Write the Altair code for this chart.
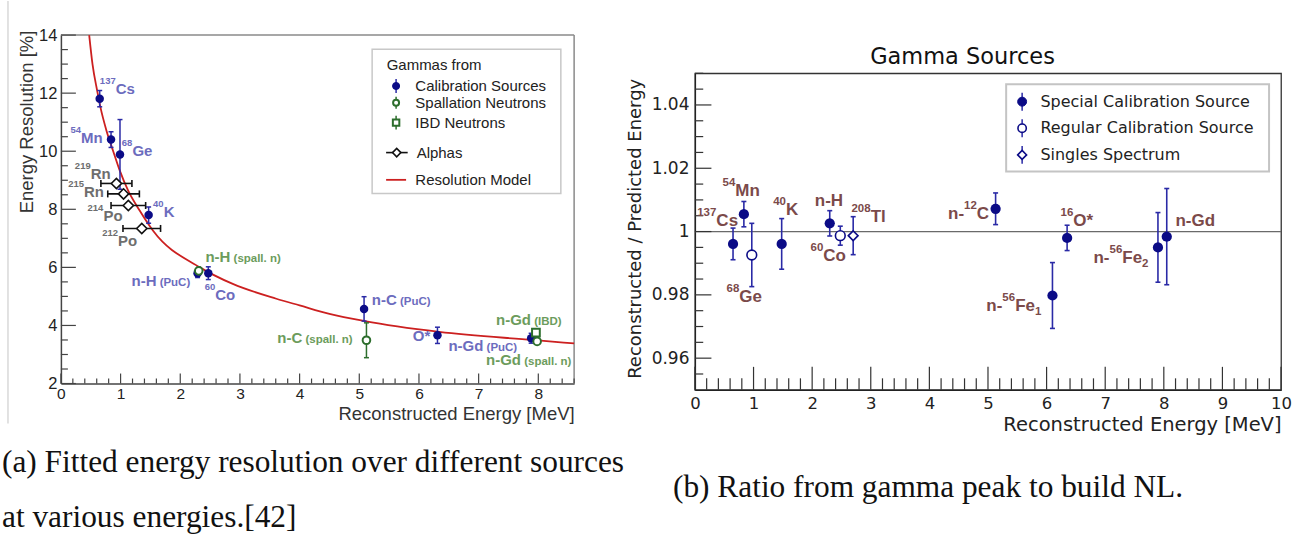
import altair as alt
import numpy as np
import pandas as pd

# ---------------- (a) energy resolution ----------------
cal_energy = [0.65, 0.84, 0.99, 1.47, 2.29, 2.47, 5.08, 6.31, 7.88]
cal_resolution = [11.81, 10.40, 9.89, 7.80, 5.80, 5.80, 4.57, 3.66, 3.56]
cal_error = [0.28, 0.27, 1.20, 0.28, 0.15, 0.22, 0.42, 0.28, 0.17]

spall_energy = [2.31, 5.12, 7.98]
spall_resolution = [5.88, 3.49, 3.45]
spall_error = [0.12, 0.60, 0.08]

ibd_energy = [7.96]
ibd_resolution = [3.75]
ibd_error = [0.12]

alpha_energy = [0.93, 1.05, 1.13, 1.355]
alpha_resolution = [8.89, 8.53, 8.13, 7.34]
alpha_energy_error = [0.26, 0.265, 0.29, 0.315]

model_energy = [0.474, 0.53, 0.608, 0.664, 0.765, 0.875, 0.987, 1.127, 1.322,
                1.545, 2.33, 2.88, 3.61, 4.0, 4.5, 5.09, 6.34, 7.9, 8.6]
model_resolution = [14.0, 12.99, 12.08, 11.50, 10.70, 10.01, 9.33, 8.64, 7.95,
                    7.26, 6.0, 5.43, 4.92, 4.69, 4.40, 4.15, 3.78, 3.50, 3.38]

# ---------------- (b) reconstructed / predicted ----------------
special_energy = [0.65, 0.835, 1.48, 2.30, 5.13, 6.10, 6.35, 7.90, 8.05]
special_ratio = [0.9961, 1.0055, 0.9961, 1.0026, 1.0072, 0.9798, 0.9980, 0.9950, 0.9984]
special_error = [0.0050, 0.0040, 0.0080, 0.0040, 0.0050, 0.0104, 0.0040, 0.0110, 0.0152]

regular_energy = [0.97, 2.48]
regular_ratio = [0.9926, 0.9987]
regular_error = [0.0100, 0.0030]

singles_energy = [2.70]
singles_ratio = [0.9987]
singles_error = [0.0060]

# ---------------- annotation text (anchored in data units) ----------------
BLUE_T, GREEN_T, GREY_T, BROWN_T = "#6c6cbe", "#6c9c5c", "#6e6e6e", "#7b4a4a"
left_labels = [
    ([("137", "sup"), ("Cs", "main")], 0.653, 11.96, BLUE_T),
    ([("54", "sup"), ("Mn", "main")], 0.162, 10.30, BLUE_T),
    ([("68", "sup"), ("Ge", "main")], 1.021, 9.83, BLUE_T),
    ([("219", "sup"), ("Rn", "main")], 0.234, 9.06, GREY_T),
    ([("215", "sup"), ("Rn", "main")], 0.122, 8.41, GREY_T),
    ([("214", "sup"), ("Po", "main")], 0.447, 7.61, GREY_T),
    ([("212", "sup"), ("Po", "main")], 0.691, 6.75, GREY_T),
    ([("40", "sup"), ("K", "main")], 1.545, 7.72, BLUE_T),
    ([("n-H", "main"), (" (spall. n)", "paren")], 2.422, 6.20, GREEN_T),
    ([("n-H", "main"), (" (PuC)", "paren")], 1.183, 5.37, BLUE_T),
    ([("60", "sup"), ("Co", "main")], 2.41, 4.88, BLUE_T),
    ([("n-C", "main"), (" (spall. n)", "paren")], 3.627, 3.39, GREEN_T),
    ([("n-C", "main"), (" (PuC)", "paren")], 5.21, 4.69, BLUE_T),
    ([("O*", "main")], 5.896, 3.48, BLUE_T),
    ([("n-Gd", "main"), (" (PuC)", "paren")], 6.494, 3.11, BLUE_T),
    ([("n-Gd", "main"), (" (IBD)", "paren")], 7.292, 4.03, GREEN_T),
    ([("n-Gd", "main"), (" (spall. n)", "paren")], 7.125, 2.63, GREEN_T),
]
right_labels = [
    ([("137", "sup"), ("Cs", "main")], 0.039, 1.0019),
    ([("54", "sup"), ("Mn", "main")], 0.472, 1.0111),
    ([("68", "sup"), ("Ge", "main")], 0.540, 0.9777),
    ([("40", "sup"), ("K", "main")], 1.335, 1.0051),
    ([("n-H", "main")], 2.045, 1.0082),
    ([("60", "sup"), ("Co", "main")], 1.972, 0.9906),
    ([("208", "sup"), ("Tl", "main")], 2.671, 1.0029),
    ([("n-", "main"), ("12", "sup"), ("C", "main")], 4.318, 1.0040),
    ([("16", "sup"), ("O*", "main")], 6.238, 1.0019),
    ([("n-", "main"), ("56", "sup"), ("Fe", "main"), ("1", "sub")], 4.972, 0.9750),
    ([("n-", "main"), ("56", "sup"), ("Fe", "main"), ("2", "sub")], 6.80, 0.9900),
    ([("n-Gd", "main")], 8.198, 1.0016),
]

# ---------------- geometry & styling ----------------
# Both panels share one row origin (y = ROW_TOP on the page); panel (a)
# reaches above it through an explicit pixel range on its y scale.
ROW_TOP = 72.3
SPLIT = 626.0                    # page x where panel (b) begins
L_LEFT, L_TOP, L_BOTTOM = 61.0, 34.0, 383.0
R_LEFT = 695.0
LW = 514
LH = L_BOTTOM - ROW_TOP          # view height of panel (a)
L_RANGE = [L_BOTTOM - ROW_TOP, L_TOP - ROW_TOP]
RW, RH = 587, 317
LX_MAX = 8.6
SANS_L = "Liberation Sans"
SANS_R = "DejaVu Sans"
SERIF = "Liberation Serif"
NAVY = "#0b0b86"
BAR_BLUE = "#2a2aa6"
GREEN = "#2d6e2d"
RED = "#cc2020"


def lpx(x):
    return x - L_LEFT


def lpy(y):
    return y - ROW_TOP


def rpx(x):
    return x - R_LEFT


def rpy(y):
    return y - ROW_TOP


# Helvetica-Bold advance widths (1/1000 em) for the label glyphs
BOLD_W = {" ": 278, "(": 333, ")": 333, "*": 389, "-": 333, ".": 278,
          "B": 722, "C": 722, "D": 722, "F": 611, "G": 778, "H": 722, "I": 278,
          "K": 722, "M": 833, "O": 778, "P": 667, "R": 722, "T": 611,
          "a": 556, "d": 611, "e": 556, "l": 278, "n": 611, "o": 611, "p": 611,
          "s": 556, "u": 611}


def text_width(s, size):
    return sum(BOLD_W.get(c, 556) for c in s) * size / 1000.0


def label_frames(items, sizes, px_per_unit, default_color=BROWN_T):
    rows = {k: [] for k in sizes}
    for item in items:
        parts, x0, y0 = item[0], item[1], item[2]
        color = item[3] if len(item) > 3 else default_color
        cursor = 0.0
        for txt, kind in parts:
            lead = len(txt) - len(txt.lstrip(" "))
            cursor += text_width(" " * lead, sizes[kind])
            body = txt.strip(" ")
            rows[kind].append(dict(text=body, x=x0 + cursor / px_per_unit, y=y0, color=color))
            cursor += text_width(body, sizes[kind])
    return {k: pd.DataFrame(v) for k, v in rows.items() if v}


one = pd.DataFrame({"k": [0]})


def text_at(x, y, s, size, font, color="#222222", align="left", baseline="middle", weight="normal"):
    return alt.Chart(one).mark_text(text=s, align=align, baseline=baseline, font=font,
                                    fontSize=size, color=color, fontWeight=weight).encode(
        x=alt.value(x), y=alt.value(y))


def seg(x1, y1, x2, y2, color, width, opacity=1.0):
    return alt.Chart(one).mark_rule(color=color, strokeWidth=width, opacity=opacity).encode(
        x=alt.value(x1), y=alt.value(y1), x2=alt.value(x2), y2=alt.value(y2))


def sym(x, y, shape, size, fill, stroke, sw):
    return alt.Chart(one).mark_point(shape=shape, size=size, filled=True, fill=fill, stroke=stroke,
                                     strokeWidth=sw, opacity=1).encode(x=alt.value(x), y=alt.value(y))


def box(x1, y1, x2, y2, stroke, sw):
    return alt.Chart(one).mark_rect(fill="white", stroke=stroke, strokeWidth=sw).encode(
        x=alt.value(x1), y=alt.value(y1), x2=alt.value(x2), y2=alt.value(y2))


# ======================= left panel =======================
lxs = alt.Scale(domain=[0, LX_MAX], nice=False, zero=False)
lys = alt.Scale(domain=[2, 14], nice=False, zero=False, range=L_RANGE)

L_X_AXIS = alt.Axis(
    values=list(range(0, 9)), format="d", ticks=False, grid=False,
    domainColor="#444444", domainWidth=1.5, labelFont=SANS_L, labelFontSize=15.5,
    labelColor="#222222", labelPadding=3, labelFlush=False, labelOverlap=False,
    title="Reconstructed Energy [MeV]", titleFont=SANS_L, titleFontSize=18.5,
    titleFontWeight="normal", titleColor="#333333", titleAlign="right",
    titleX=LW, titleY=36, titleBaseline="alphabetic")
L_Y_AXIS = alt.Axis(
    values=list(range(2, 15, 2)), format="d", ticks=False, grid=False,
    domainColor="#444444", domainWidth=1.5, labelFont=SANS_L, labelFontSize=16.5,
    labelColor="#222222", labelPadding=4, labelOverlap=False, labelFlush=False,
    title="Energy Resolution [%]", titleFont=SANS_L, titleFontSize=18.5,
    titleFontWeight="normal", titleColor="#333333", titleAngle=270,
    titleAlign="right", titleX=-28, titleY=lpy(29), titleBaseline="alphabetic")


def LX(f):
    return alt.X(f, type="quantitative", scale=lxs, axis=L_X_AXIS)


def LY(f):
    return alt.Y(f, type="quantitative", scale=lys, axis=L_Y_AXIS)


model_df = pd.DataFrame({"E": model_energy, "R": model_resolution})
curve = alt.Chart(model_df).mark_line(color=RED, strokeWidth=1.8, interpolate="monotone").encode(
    x=LX("E"), y=LY("R"))

lx_major = np.arange(0, 9, 1.0)
lx_minor = np.array([v for v in np.round(np.arange(0, LX_MAX + 1e-9, 0.2), 2) if abs(v - round(v)) > 1e-6])
ly_major = np.arange(2, 15, 2.0)
ly_minor = np.array([v for v in np.arange(2.5, 14, 0.5) if v % 2 != 0])

left_ticks = [
    alt.Chart(pd.DataFrame({"v": lx_major})).mark_rule(color="#444444", strokeWidth=1.2).encode(
        x=LX("v"), y=alt.value(LH), y2=alt.value(LH - 10)),
    alt.Chart(pd.DataFrame({"v": lx_minor})).mark_rule(color="#444444", strokeWidth=1.2).encode(
        x=LX("v"), y=alt.value(LH), y2=alt.value(LH - 5)),
    alt.Chart(pd.DataFrame({"v": ly_major})).mark_rule(color="#444444", strokeWidth=1.2).encode(
        y=LY("v"), x=alt.value(0), x2=alt.value(15)),
    alt.Chart(pd.DataFrame({"v": ly_minor})).mark_rule(color="#444444", strokeWidth=1.2).encode(
        y=LY("v"), x=alt.value(0), x2=alt.value(7)),
]


def vbars(E, V, err, color, width, cap):
    df = pd.DataFrame({"E": E, "V": V, "lo": np.array(V) - np.array(err), "hi": np.array(V) + np.array(err)})
    ends = pd.DataFrame({"E": list(E) * 2, "V": list(df["lo"]) + list(df["hi"])})
    return [
        alt.Chart(df).mark_rule(color=color, strokeWidth=width).encode(x=LX("E"), y=LY("lo"), y2=alt.Y2("hi")),
        alt.Chart(ends).mark_tick(orient="horizontal", size=cap, thickness=width, color=color, opacity=1).encode(
            x=LX("E"), y=LY("V")),
    ]


alpha_df = pd.DataFrame({"E": alpha_energy, "R": alpha_resolution,
                         "lo": np.array(alpha_energy) - np.array(alpha_energy_error),
                         "hi": np.array(alpha_energy) + np.array(alpha_energy_error)})
alpha_ends = pd.DataFrame({"E": list(alpha_df["lo"]) + list(alpha_df["hi"]), "R": alpha_resolution * 2})

left_bars = (vbars(cal_energy, cal_resolution, cal_error, BAR_BLUE, 1.5, 5)
             + vbars(spall_energy, spall_resolution, spall_error, GREEN, 1.5, 5)
             + vbars(ibd_energy, ibd_resolution, ibd_error, GREEN, 1.5, 5)
             + [alt.Chart(alpha_df).mark_rule(color="#111111", strokeWidth=1.6).encode(
                 x=LX("lo"), x2=alt.X2("hi"), y=LY("R")),
                alt.Chart(alpha_ends).mark_tick(orient="vertical", size=7, thickness=1.6,
                                                color="#111111", opacity=1).encode(x=LX("E"), y=LY("R"))])

left_points = [
    alt.Chart(pd.DataFrame({"E": cal_energy, "R": cal_resolution})).mark_point(
        shape="circle", filled=True, size=72, color=NAVY, opacity=1).encode(x=LX("E"), y=LY("R")),
    alt.Chart(pd.DataFrame({"E": spall_energy, "R": spall_resolution})).mark_point(
        shape="circle", filled=True, fill="white", stroke=GREEN, strokeWidth=2, size=58, opacity=1).encode(
        x=LX("E"), y=LY("R")),
    alt.Chart(pd.DataFrame({"E": ibd_energy, "R": ibd_resolution})).mark_point(
        shape="square", filled=True, fill="white", stroke=GREEN, strokeWidth=2, size=60, opacity=1).encode(
        x=LX("E"), y=LY("R")),
    alt.Chart(alpha_df).mark_point(
        shape="diamond", filled=True, fill="white", stroke="#111111", strokeWidth=1.6, size=105, opacity=1).encode(
        x=LX("E"), y=LY("R")),
]

L_SIZES = {"main": 15, "sup": 9.5, "paren": 11.5}
L_DY = {"main": 0, "sup": -10, "paren": 0}
left_text = []
for kind, df in label_frames(left_labels, L_SIZES, LW / LX_MAX).items():
    left_text.append(alt.Chart(df).mark_text(
        align="left", baseline="alphabetic", font=SANS_L, fontWeight="bold",
        fontSize=L_SIZES[kind], dy=L_DY[kind]).encode(
        x=LX("x"), y=LY("y"), text="text:N", color=alt.Color("color:N", scale=None)))

# legend box of panel (a), laid out in page pixels
left_legend = [
    box(lpx(372.7), lpy(48.3), lpx(561.7), lpy(192.7), "#c8c8c8", 1.5),
    text_at(lpx(387.3), lpy(64), "Gammas from", 15, SANS_L),
    seg(lpx(396.7), lpy(78), lpx(396.7), lpy(92), BAR_BLUE, 1.5),
    sym(lpx(396.7), lpy(85), "circle", 50, NAVY, NAVY, 1),
    text_at(lpx(416), lpy(85), "Calibration Sources", 15, SANS_L),
    seg(lpx(396.7), lpy(95.7), lpx(396.7), lpy(107.7), GREEN, 1.5),
    sym(lpx(396.7), lpy(101.7), "circle", 36, "white", GREEN, 2),
    text_at(lpx(416), lpy(101.7), "Spallation Neutrons", 15, SANS_L),
    seg(lpx(396.7), lpy(114.7), lpx(396.7), lpy(128.7), GREEN, 1.5),
    sym(lpx(396.7), lpy(121.7), "square", 42, "white", GREEN, 2),
    text_at(lpx(416), lpy(121.7), "IBD Neutrons", 15, SANS_L),
    seg(lpx(386.7), lpy(151.7), lpx(408.3), lpy(151.7), "#111111", 1.6),
    sym(lpx(397.3), lpy(151.7), "diamond", 70, "white", "#111111", 1.6),
    text_at(lpx(417.3), lpy(151.7), "Alphas", 15, SANS_L),
    seg(lpx(386.7), lpy(179), lpx(406.7), lpy(179), RED, 1.8),
    text_at(lpx(416), lpy(179), "Resolution Model", 15, SANS_L),
]

left_extra = [
    # outer extent of panel (a) inside the figure
    seg(lpx(0), lpy(0), lpx(SPLIT), lpy(542), "white", 0.1, opacity=0),
    # thin page rule at the left edge
    seg(lpx(8), lpy(0), lpx(8), lpy(423), "#cfcfcf", 1.2),
    # frame: top and right edges of the plot
    seg(0, lpy(L_TOP), LW, lpy(L_TOP), "#8a8a8a", 1.5),
    seg(LW, lpy(L_TOP), LW, LH, "#8a8a8a", 1.5),
    text_at(lpx(2), lpy(471.7), "(a) Fitted energy resolution over different sources", 31.4, SERIF,
            color="#111111", baseline="alphabetic"),
    text_at(lpx(2), lpy(527), "at various energies.[42]", 31.4, SERIF, color="#111111", baseline="alphabetic"),
]

left = alt.layer(*left_extra, curve, *left_ticks, *left_bars, *left_points, *left_text, *left_legend).properties(
    width=LW, height=LH, view=alt.ViewBackground(stroke="white", strokeOpacity=0))

# ======================= right panel =======================
rxs = alt.Scale(domain=[0, 10], nice=False, zero=False)
rys = alt.Scale(domain=[0.95, 1.05], nice=False, zero=False)

R_X_AXIS = alt.Axis(
    values=list(range(0, 11)), format="d", ticks=False, grid=False,
    domainColor="#222222", domainWidth=1.3, labelFont=SANS_R, labelFontSize=16.5,
    labelColor="#222222", labelPadding=6, labelFlush=False, labelOverlap=False,
    title="Reconstructed Energy [MeV]", titleFont=SANS_R, titleFontSize=19.5,
    titleFontWeight="normal", titleColor="#222222", titleAlign="right",
    titleX=RW, titleY=41, titleBaseline="alphabetic")
R_Y_AXIS = alt.Axis(
    values=[0.96, 0.98, 1.0, 1.02, 1.04], format="~g", ticks=False, grid=False,
    domainColor="#222222", domainWidth=1.3, labelFont=SANS_R, labelFontSize=17,
    labelColor="#222222", labelPadding=6, labelOverlap=False, labelFlush=False,
    title="Reconstructed / Predicted Energy", titleFont=SANS_R, titleFontSize=18,
    titleFontWeight="normal", titleColor="#222222", titleAngle=270,
    titleAlign="right", titleX=-55, titleY=5, titleBaseline="alphabetic")


def RX(f):
    return alt.X(f, type="quantitative", scale=rxs, axis=R_X_AXIS)


def RY(f):
    return alt.Y(f, type="quantitative", scale=rys, axis=R_Y_AXIS)


unity = alt.Chart(pd.DataFrame({"v": [1.0]})).mark_rule(color="#6a6a6a", strokeWidth=1.3).encode(
    y=RY("v"), x=alt.value(0), x2=alt.value(RW))

rx_major = np.arange(0, 11, 1.0)
rx_minor = np.array([v for v in np.round(np.arange(0, 10, 0.2), 2) if abs(v - round(v)) > 1e-6])
ry_major = np.array([0.96, 0.98, 1.0, 1.02, 1.04])
ry_minor = np.array([v for v in np.round(np.arange(0.955, 1.05, 0.005), 3)
                     if min(abs(v - m) for m in ry_major) > 1e-6])

right_ticks = [
    alt.Chart(pd.DataFrame({"v": rx_major})).mark_rule(color="#333333", strokeWidth=1.2).encode(
        x=RX("v"), y=alt.value(RH), y2=alt.value(RH - 23)),
    alt.Chart(pd.DataFrame({"v": rx_minor})).mark_rule(color="#333333", strokeWidth=1.2).encode(
        x=RX("v"), y=alt.value(RH), y2=alt.value(RH - 11.5)),
    alt.Chart(pd.DataFrame({"v": ry_major})).mark_rule(color="#333333", strokeWidth=1.2).encode(
        y=RY("v"), x=alt.value(0), x2=alt.value(16.5)),
    alt.Chart(pd.DataFrame({"v": ry_minor})).mark_rule(color="#333333", strokeWidth=1.2).encode(
        y=RY("v"), x=alt.value(0), x2=alt.value(8.3)),
]


def rbars(E, V, err):
    df = pd.DataFrame({"E": E, "lo": np.array(V) - np.array(err), "hi": np.array(V) + np.array(err)})
    ends = pd.DataFrame({"E": list(E) * 2, "V": list(df["lo"]) + list(df["hi"])})
    return [
        alt.Chart(df).mark_rule(color=BAR_BLUE, strokeWidth=1.6).encode(x=RX("E"), y=RY("lo"), y2=alt.Y2("hi")),
        alt.Chart(ends).mark_tick(orient="horizontal", size=5, thickness=1.6, color=BAR_BLUE, opacity=1).encode(
            x=RX("E"), y=RY("V")),
    ]


right_bars = (rbars(special_energy, special_ratio, special_error)
              + rbars(regular_energy, regular_ratio, regular_error)
              + rbars(singles_energy, singles_ratio, singles_error))

right_points = [
    alt.Chart(pd.DataFrame({"E": special_energy, "V": special_ratio})).mark_point(
        shape="circle", filled=True, size=105, color=NAVY, opacity=1).encode(x=RX("E"), y=RY("V")),
    alt.Chart(pd.DataFrame({"E": regular_energy, "V": regular_ratio})).mark_point(
        shape="circle", filled=True, fill="white", stroke=NAVY, strokeWidth=1.6, size=95, opacity=1).encode(
        x=RX("E"), y=RY("V")),
    alt.Chart(pd.DataFrame({"E": singles_energy, "V": singles_ratio})).mark_point(
        shape="diamond", filled=True, fill="white", stroke=NAVY, strokeWidth=1.6, size=95, opacity=1).encode(
        x=RX("E"), y=RY("V")),
]

R_SIZES = {"main": 17, "sup": 11.5, "sub": 11.5}
R_DY = {"main": 0, "sup": -10, "sub": 4}
right_text = []
for kind, df in label_frames(right_labels, R_SIZES, RW / 10.0).items():
    right_text.append(alt.Chart(df).mark_text(
        align="left", baseline="alphabetic", font=SANS_L, fontWeight="bold",
        fontSize=R_SIZES[kind], dy=R_DY[kind]).encode(
        x=RX("x"), y=RY("y"), text="text:N", color=alt.Color("color:N", scale=None)))

right_legend = [
    box(rpx(1006.7), rpy(83.3), rpx(1270), rpy(170.7), "#c4c4c4", 2),
    seg(rpx(1022.7), rpy(91.7), rpx(1022.7), rpy(109.7), BAR_BLUE, 1.5),
    sym(rpx(1022.7), rpy(100.7), "circle", 80, NAVY, NAVY, 1),
    text_at(rpx(1041), rpy(100.7), "Special Calibration Source", 16, SANS_R),
    seg(rpx(1022.7), rpy(118.3), rpx(1022.7), rpy(136.3), BAR_BLUE, 1.5),
    sym(rpx(1022.7), rpy(127.3), "circle", 70, "white", NAVY, 1.6),
    text_at(rpx(1041), rpy(127.3), "Regular Calibration Source", 16, SANS_R),
    seg(rpx(1022.7), rpy(145), rpx(1022.7), rpy(163), BAR_BLUE, 1.5),
    sym(rpx(1022.7), rpy(154), "diamond", 80, "white", NAVY, 1.6),
    text_at(rpx(1041), rpy(154), "Singles Spectrum", 16, SANS_R),
]

right_extra = [
    seg(rpx(SPLIT), rpy(0), rpx(1304), rpy(542), "white", 0.1, opacity=0),
    text_at(rpx(963), rpy(63.3), "Gamma Sources", 22.5, SANS_R, color="#111111", align="center",
            baseline="alphabetic"),
    text_at(rpx(673), rpy(496.7), "(b) Ratio from gamma peak to build NL.", 31.4, SERIF,
            color="#111111", baseline="alphabetic"),
]

right = alt.layer(*right_extra, unity, *right_ticks, *right_bars, *right_points,
                  *right_text, *right_legend).properties(
    width=RW, height=RH, view=alt.ViewBackground(stroke="#333333", strokeWidth=1.3))

chart = alt.hconcat(left, right, spacing=0).properties(padding=0).configure(background="white")

chart.save("out.html", embed_options={"renderer": "svg", "actions": False})
